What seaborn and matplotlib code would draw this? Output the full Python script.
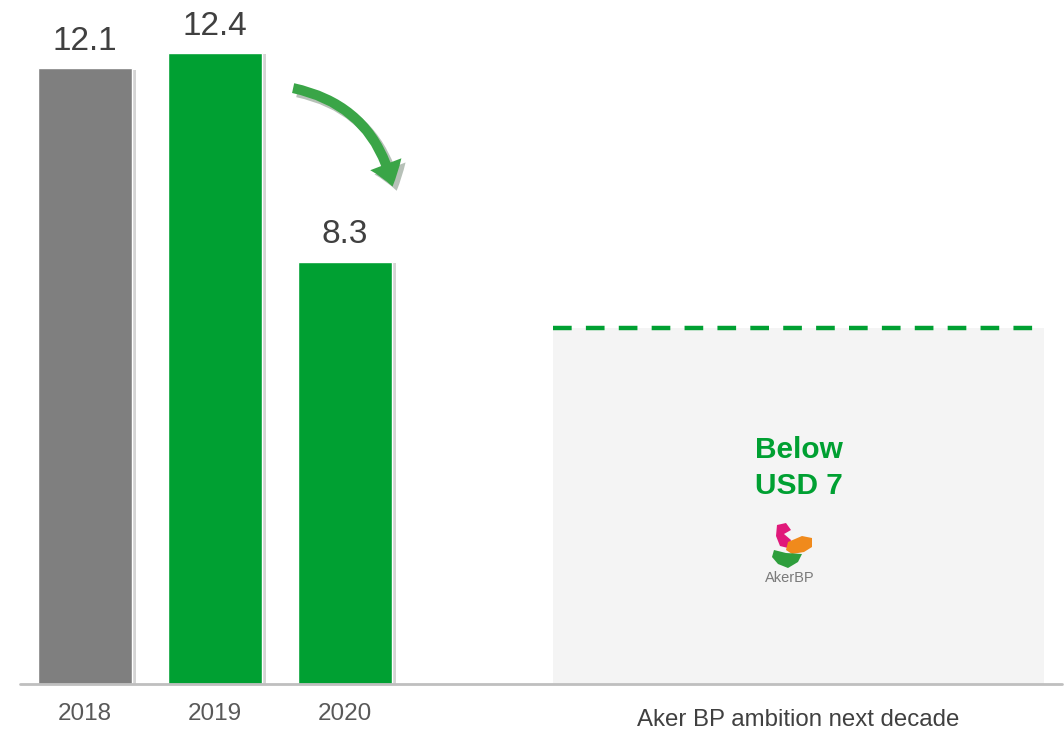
import matplotlib
matplotlib.use("Agg")
import matplotlib.pyplot as plt
import matplotlib.patheffects as pe
from matplotlib.patches import Rectangle, Polygon
import seaborn as sns
import pandas as pd

# Unit production cost, USD per boe
years = ["2018", "2019", "2020"]
costs = [12.1, 12.4, 8.3]
bar_colors = ["#7f7f7f", "#00a032", "#00a032"]
ambition_value = 7.0
ambition_label = "Below\nUSD 7"
ambition_category = "Aker BP ambition next decade"

sns.set_theme(style="white")
plt.rcParams["font.family"] = ["Liberation Sans", "DejaVu Sans"]

W, H = 1064, 732
fig = plt.figure(figsize=(W / 100, H / 100), dpi=100)
ax = fig.add_axes([0, 48 / H, 1, 684 / H])

df = pd.DataFrame({"year": years, "cost": costs})
sns.barplot(data=df, x="year", y="cost", hue="year", palette=bar_colors,
            width=0.723, legend=False, ax=ax, saturation=1)

shadow = [pe.SimplePatchShadow(offset=(3, -1), shadow_rgbFace="#b8b8b8", alpha=0.6), pe.Normal()]
for patch, val in zip(ax.patches, costs):
    patch.set_path_effects(shadow)
    ax.text(patch.get_x() + patch.get_width() / 2, val + 0.22, f"{val}",
            ha="center", va="bottom", fontsize=24, color="#404040")

ax.set_xlim(-0.654, 7.531)
ax.set_ylim(0, 13.44)
ax.axis("off")

# Ambition panel
x0, x1 = 3.6, 7.377
ax.add_patch(Rectangle((x0, 0), x1 - x0, ambition_value, facecolor="#f4f4f4",
                       edgecolor="none", zorder=0))
ax.plot([x0, x1], [ambition_value, ambition_value], color="#00a032", lw=3.2,
        linestyle=(0, (4.2, 3.2)), zorder=3)
cx = (x0 + x1) / 2
ax.text(cx, 4.25, ambition_label, ha="center", va="center", fontsize=21.5,
        fontweight="bold", color="#00a032", linespacing=1.35)

# Logo mark
lax = fig.add_axes([758 / W, 1 - 588 / H, 64 / W, 68 / H])
lax.set_xlim(0, 64)
lax.set_ylim(68, 0)
lax.axis("off")
lax.add_patch(Polygon([(19, 5), (28, 3), (33, 10), (26, 14), (33, 20), (30, 28), (22, 26), (18, 16)],
                      closed=True, facecolor="#e0197a", edgecolor="none"))
lax.add_patch(Polygon([(30, 22), (44, 16), (54, 18), (54, 27), (46, 32), (34, 34), (28, 30)],
                      closed=True, facecolor="#f08a1c", edgecolor="none"))
lax.add_patch(Polygon([(16, 30), (28, 33), (44, 34), (40, 42), (30, 48), (20, 44), (14, 37)],
                      closed=True, facecolor="#2e9e3c", edgecolor="none"))
lax.text(32, 58, "AkerBP", ha="center", va="center", fontsize=10.5, color="#7a7a7a")

# Baseline
ax.plot([-0.5, 7.515], [0, 0], color="#bfbfbf", lw=2, clip_on=False, zorder=5)

# Category labels
for i, y in enumerate(years):
    fig.text((85 + 130 * i) / W, 1 - 714 / H, y, ha="center", va="center",
             fontsize=17.5, color="#595959")
fig.text(798 / W, 1 - 720 / H, ambition_category, ha="center", va="center",
         fontsize=17.3, color="#404040")

# Curved arrow from 2019 down to 2020
ax.annotate("", xy=(2.37, 9.72), xytext=(1.58, 11.72),
            arrowprops=dict(arrowstyle="simple,head_width=2.0,head_length=1.4,tail_width=0.6",
                            connectionstyle="arc3,rad=-0.33", color="#3aa547", lw=0,
                            path_effects=[pe.SimplePatchShadow(offset=(3, -3), alpha=0.3), pe.Normal()]))

fig.savefig("out.png", dpi=100, facecolor="white")
